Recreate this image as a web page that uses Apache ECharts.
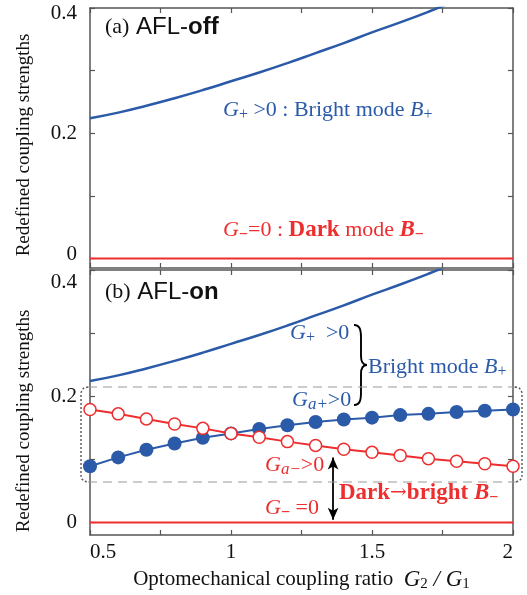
<!DOCTYPE html>
<html>
<head>
<meta charset="utf-8">
<script src="https://cdn.jsdelivr.net/npm/echarts@6/dist/echarts.min.js"></script>
<style>
  html, body { margin: 0; padding: 0; background: #fff; }
  #chart { width: 527px; height: 595px; }
</style>
</head>
<body>
<div id="chart"></div>
<script>
// Coupling ratio G2/G1
const ratio = [0.5, 0.6, 0.7, 0.8, 0.9, 1.0, 1.1, 1.2, 1.3, 1.4, 1.5, 1.6, 1.7, 1.8, 1.9, 2.0];
// Bright-mode coupling G+
const gPlus = [0.224, 0.233, 0.244, 0.256, 0.269, 0.283, 0.297, 0.312, 0.328, 0.344, 0.361, 0.377, 0.394, 0.412, 0.429, 0.447];
// Dark-mode coupling G- (vanishes)
const gMinus = [0, 0, 0, 0, 0, 0, 0, 0, 0, 0, 0, 0, 0, 0, 0, 0];
// AFL-on redefined couplings
const gaPlus = [0.089, 0.103, 0.115, 0.125, 0.134, 0.141, 0.148, 0.154, 0.159, 0.163, 0.166, 0.170, 0.172, 0.175, 0.177, 0.179];
const gaMinus = [0.179, 0.172, 0.164, 0.156, 0.149, 0.141, 0.135, 0.128, 0.122, 0.116, 0.111, 0.106, 0.101, 0.097, 0.093, 0.089];
// Tick positions and labels
const xTicks = [0.5, 0.75, 1, 1.25, 1.5, 1.75, 2];
const xLabels = [0.5, 1, 1.5, 2];
const yTicks = [0, 0.1, 0.2, 0.3, 0.4];
const yLabels = [0, 0.2, 0.4];

const BLUE = '#2a5aa8';
const RED = '#ee2e2e';
const SERIF = "'Liberation Serif', 'Times New Roman', serif";
const SANS = "'Liberation Sans', Arial, sans-serif";
const FRAME = '#555';

const pairs = (ys) => ratio.map((x, i) => [x, ys[i]]);

function xAx(grid, pos, labels, extra) {
  return Object.assign({
    type: 'value', gridIndex: grid, position: pos, min: 0.5, max: 2,
    axisLine: { show: true, onZero: false, lineStyle: { color: FRAME, width: 1.5 } },
    axisTick: { show: true, inside: true, length: 5, customValues: xTicks, lineStyle: { color: FRAME, width: 1.2 } },
    axisLabel: labels ? {
      show: true, customValues: xLabels, fontFamily: SERIF, fontSize: 21, color: '#111', margin: 7,
      alignMinLabel: 'left', alignMaxLabel: 'right'
    } : { show: false },
    splitLine: { show: false }
  }, extra || {});
}
// end labels are nudged inward (padTop moves the top label down, padBottom moves the zero label up)
function yAx(grid, pos, min, labels, padTop, padBottom) {
  const base = { fontFamily: SERIF, fontSize: 21, color: '#111' };
  return {
    type: 'value', gridIndex: grid, position: pos, min: min, max: 0.4,
    axisLine: { show: true, onZero: false, lineStyle: { color: FRAME, width: 1.5 } },
    axisTick: { show: true, inside: true, length: 5, customValues: yTicks, lineStyle: { color: FRAME, width: 1.2 } },
    axisLabel: labels ? {
      show: true, customValues: yLabels, margin: 13, fontFamily: SERIF, fontSize: 21, color: '#111',
      formatter: (v) => v >= 0.4 ? '{hi|' + v + '}' : (v === 0 ? '{lo|0}' : '{n|' + v + '}'),
      rich: {
        n: base,
        hi: Object.assign({ padding: [padTop || 0, 0, 0, 0] }, base),
        lo: Object.assign({ padding: [0, 0, padBottom || 0, 0] }, base)
      }
    } : { show: false },
    splitLine: { show: false }
  };
}

// rich-text styles for annotation texts (graphic text uses "fill")
function st(color, o) {
  return Object.assign({ fontFamily: SERIF, fontSize: 22, fill: color, color: color }, o || {});
}
function richSet(color) {
  return {
    t: st(color),
    g: st(color, { fontStyle: 'italic' }),
    b: st(color, { fontWeight: 'bold', fontSize: 23 }),
    ar: st(color, { fontFamily: "'DejaVu Serif', serif", fontSize: 20 }),
    bi: st(color, { fontWeight: 'bold', fontStyle: 'italic', fontSize: 23 }),
    s: st(color, { fontSize: 16, padding: [10, 0, 0, 0] }),
    si: st(color, { fontSize: 17, fontStyle: 'italic', padding: [10, 0, 0, 0] }),
    sm: st(color, { fontSize: 16, fontWeight: 'bold', padding: [10, 0, 0, 0] })
  };
}
function label(x, y, text, color) {
  return { type: 'text', x: x, y: y, z: 50, style: { text: text, rich: richSet(color), align: 'left', verticalAlign: 'middle' } };
}
function titleText(y, head, tail) {
  return { type: 'text', x: 105, y: y, z: 50, style: { text: '{p|' + head + '}  {s|AFL-}{sb|' + tail + '}', verticalAlign: 'middle',
    rich: {
      p: { fontFamily: SERIF, fontSize: 22, fill: '#111' },
      s: { fontFamily: SANS, fontSize: 24, fill: '#111' },
      sb: { fontFamily: SANS, fontSize: 24, fontWeight: 'bold', fill: '#111' }
    } } };
}
function yTitle(cy) {
  return { type: 'text', x: 24, y: cy, rotation: Math.PI / 2, z: 50,
    style: { text: 'Redefined coupling strengths', fontFamily: SERIF, fontSize: 19, fill: '#111', align: 'center', verticalAlign: 'middle' } };
}
function curve(x1, y1, cx1, cy1, cx2, cy2, x2, y2, style) {
  return { type: 'bezierCurve', z: 50, shape: { x1: x1, y1: y1, cpx1: cx1, cpy1: cy1, cpx2: cx2, cpy2: cy2, x2: x2, y2: y2 }, style: style };
}
function seg(pts, style) {
  return { type: 'polyline', z: 40, shape: { points: pts }, style: style };
}

const braceStyle = { stroke: '#000', lineWidth: 1.9, fill: null };
const dashStyle = { stroke: '#999', lineWidth: 1.2, lineDash: [9, 6], fill: null };
const dotStyle = { stroke: '#555', lineWidth: 1.4, lineDash: [2, 2], fill: null };

const chart = echarts.init(document.getElementById('chart'), null, { renderer: 'canvas' });

const option = {
  backgroundColor: '#fff',
  animation: false,
  grid: [
    { left: 90, right: 14, top: 8, height: 260 },
    { left: 90, right: 14, top: 270, height: 265 }
  ],
  xAxis: [
    xAx(0, 'bottom', false),
    xAx(0, 'top', false),
    xAx(1, 'bottom', true, {
      name: 'Optomechanical coupling ratio  {g|G}{s|2}{t| / }{g|G}{s|1}',
      nameLocation: 'middle', nameGap: 32,
      nameTextStyle: {
        fontFamily: SERIF, fontSize: 21, color: '#111',
        rich: {
          g: { fontFamily: SERIF, fontSize: 23, fontStyle: 'italic', color: '#111' },
          s: { fontFamily: SERIF, fontSize: 15, color: '#111', padding: [10, 0, 0, 0] },
          t: { fontFamily: SERIF, fontSize: 23, fontStyle: 'italic', color: '#111' }
        }
      }
    }),
    xAx(1, 'top', false)
  ],
  yAxis: [
    yAx(0, 'left', -0.015, true, 10, 8),
    yAx(0, 'right', -0.015, false),
    yAx(1, 'left', -0.02, true, 24, 0),
    yAx(1, 'right', -0.02, false)
  ],
  series: [
    { name: 'G+ (off)', type: 'line', xAxisIndex: 0, yAxisIndex: 0, data: pairs(gPlus), smooth: true, symbol: 'none', lineStyle: { color: BLUE, width: 2.5 } },
    { name: 'G- (off)', type: 'line', xAxisIndex: 0, yAxisIndex: 0, data: pairs(gMinus), symbol: 'none', lineStyle: { color: RED, width: 2 } },
    { name: 'G+ (on)', type: 'line', xAxisIndex: 2, yAxisIndex: 2, data: pairs(gPlus), smooth: true, symbol: 'none', lineStyle: { color: BLUE, width: 2.5 } },
    { name: 'G- (on)', type: 'line', xAxisIndex: 2, yAxisIndex: 2, data: pairs(gMinus), symbol: 'none', lineStyle: { color: RED, width: 2 },
      markLine: {
        silent: true, symbol: ['arrow', 'arrow'], symbolSize: [8, 12], label: { show: false },
        lineStyle: { color: '#000', width: 1.8, type: 'solid' },
        data: [[{ coord: [1.362, 0.103] }, { coord: [1.362, 0.004] }]]
      }
    },
    { name: 'Ga+', type: 'line', xAxisIndex: 2, yAxisIndex: 2, data: pairs(gaPlus), symbol: 'circle', symbolSize: 14, z: 4,
      lineStyle: { color: BLUE, width: 2 }, itemStyle: { color: BLUE, borderColor: BLUE, borderWidth: 0 } },
    { name: 'Ga-', type: 'line', xAxisIndex: 2, yAxisIndex: 2, data: pairs(gaMinus), symbol: 'circle', symbolSize: 12, z: 5,
      lineStyle: { color: RED, width: 2 }, itemStyle: { color: '#fff', borderColor: RED, borderWidth: 1.5 } }
  ],
  graphic: [
    yTitle(145),
    yTitle(421),
    titleText(27, '(a)', 'off'),
    titleText(292, '(b)', 'on'),
    // panel (a) annotations
    label(223, 110, '{g|G}{s|+}{t| >0 : Bright mode }{g|B}{s|+}', BLUE),
    label(223, 230, '{g|G}{sm|−}{t|=0 : }{b|Dark}{t| mode }{bi|B}{sm|−}', RED),
    // panel (b) annotations
    label(290, 333, '{g|G}{s|+}{t|  >0}', BLUE),
    label(368, 367, '{t|Bright mode }{g|B}{s|+}', BLUE),
    label(292, 400, '{g|G}{si|a+}{t|>0}', BLUE),
    label(265, 465, '{g|G}{si|a−}{t|>0}', RED),
    label(339, 493, '{b|Dark}{ar|→}{b|bright }{bi|B}{sm|−}', RED),
    label(265, 508, '{g|G}{sm|−}{t| =0}', RED),
    // brace grouping the two bright couplings
    curve(354, 325, 360, 325, 361, 330, 361, 338, braceStyle),
    seg([[361, 338], [361, 356]], braceStyle),
    curve(361, 356, 361, 362, 363, 365, 367, 365, braceStyle),
    curve(367, 365, 363, 365, 361, 368, 361, 374, braceStyle),
    seg([[361, 374], [361, 392]], braceStyle),
    curve(361, 392, 361, 400, 360, 405, 354, 405, braceStyle),
    // dashed frame around the AFL-induced couplings
    seg([[88, 387], [517, 387]], dashStyle),
    seg([[88, 482], [517, 482]], dashStyle),
    seg([[88, 387], [84, 388], [82, 390], [81, 393], [81, 476], [82, 479], [84, 481], [88, 482]], dotStyle),
    seg([[515, 387], [519, 388], [521, 390], [522, 393], [522, 476], [521, 479], [519, 481], [515, 482]], dotStyle)
  ]
};

chart.setOption(option);
</script>
</body>
</html>
